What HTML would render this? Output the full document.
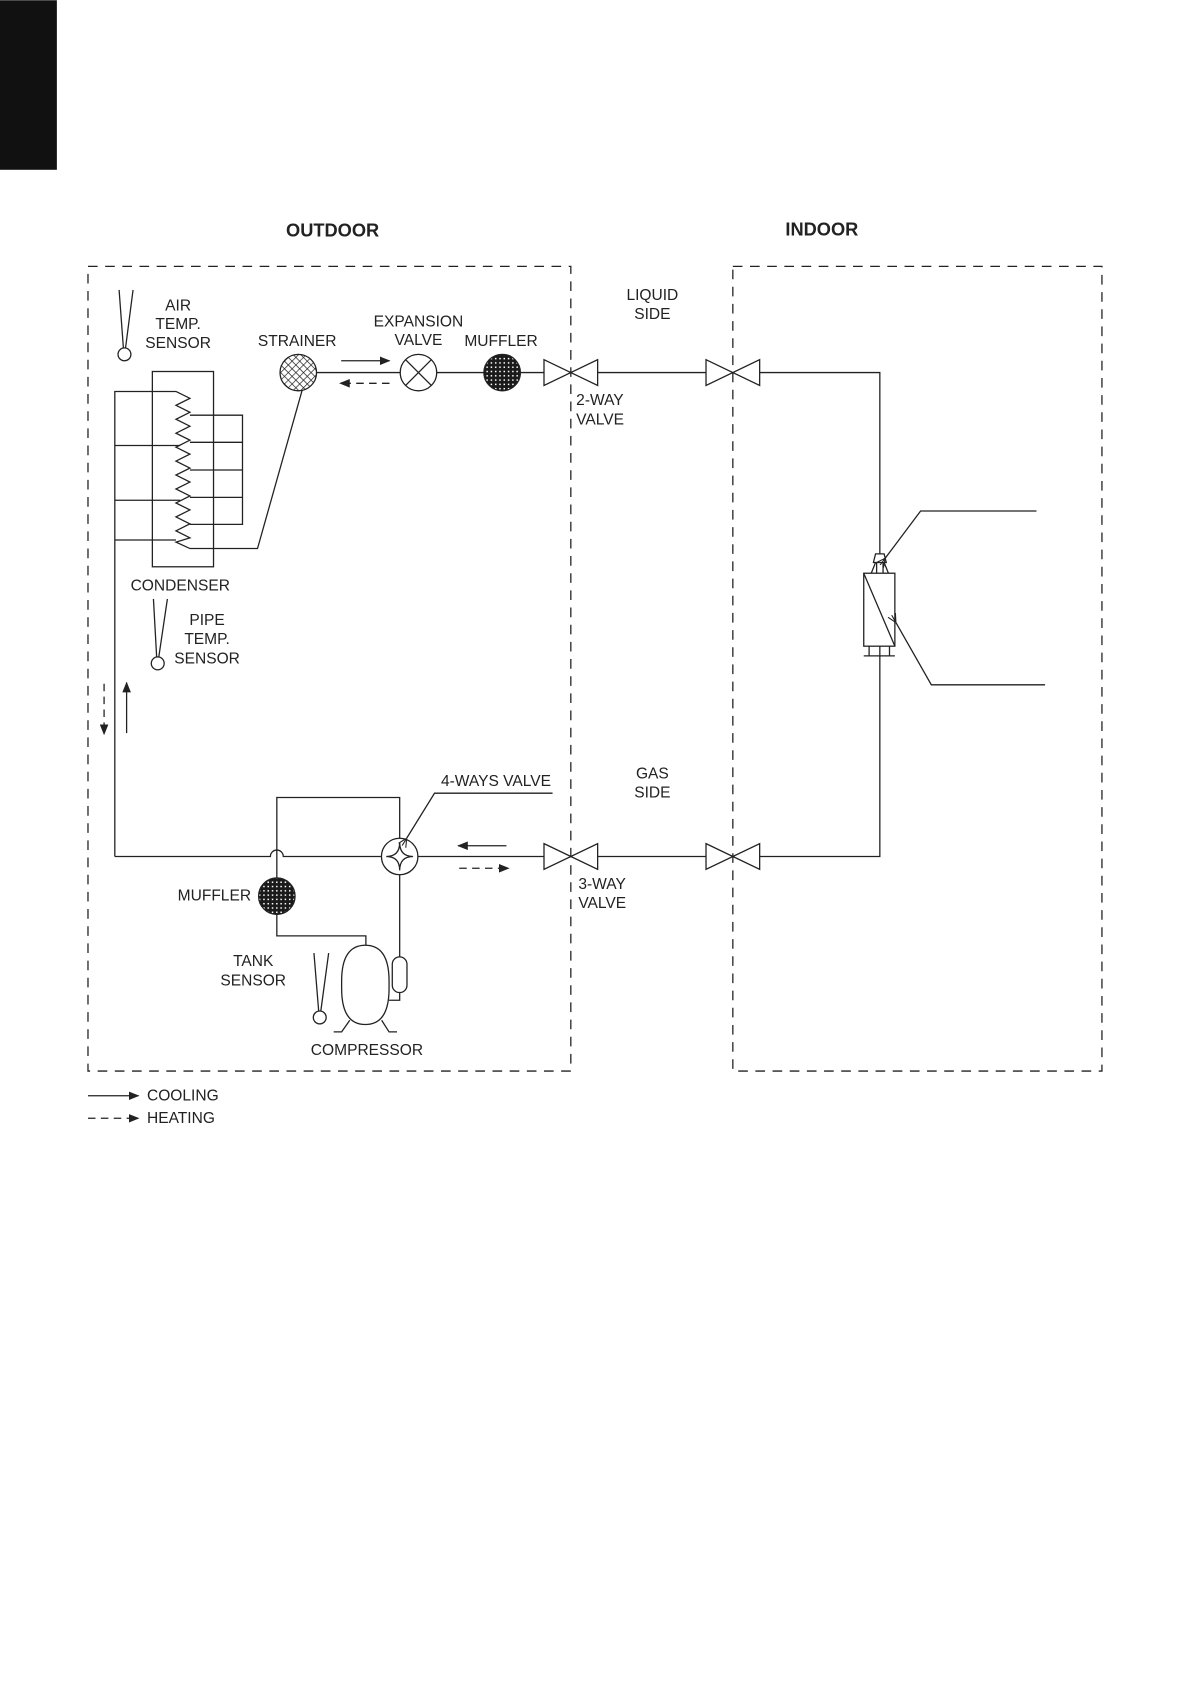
<!DOCTYPE html>
<html><head><meta charset="utf-8"><style>
html,body{margin:0;padding:0;background:#fff;}
svg{display:block;}
text{font-family:"Liberation Sans",Arial,sans-serif;font-size:14.5px;fill:#222;dominant-baseline:central;}
.b{font-weight:bold;font-size:17px;}
</style></head><body>
<svg width="1191" height="1684" viewBox="0 0 1110 1569" xmlns="http://www.w3.org/2000/svg">
<defs>
<pattern id="hatch" width="5" height="5" patternUnits="userSpaceOnUse" patternTransform="rotate(45)">
<rect width="5" height="5" fill="#fff"/><path d="M0 0V5M0 0H5" stroke="#222" stroke-width="1.3"/></pattern>
<pattern id="dots" width="4" height="4" patternUnits="userSpaceOnUse">
<rect width="4" height="4" fill="#1a1a1a"/><rect x="1.3" y="1.3" width="1.4" height="1.4" fill="#fff"/></pattern>
<marker id="ah" markerWidth="10" markerHeight="8" refX="9" refY="4" orient="auto" markerUnits="userSpaceOnUse"><path d="M0,0L10,4L0,8z" fill="#222"/></marker>
<marker id="ah2" markerWidth="8" markerHeight="10" refX="0" refY="5" orient="auto" markerUnits="userSpaceOnUse"><path d="M0,5L8,1M0,5L8,9M0,5L8,5" stroke="#222" fill="none"/></marker>
</defs>
<rect x="0" y="0" width="53" height="158" fill="#111"/>
<text class="b" x="310" y="214" text-anchor="middle">OUTDOOR</text>
<text class="b" x="766" y="213" text-anchor="middle">INDOOR</text>
<g fill="none" stroke="#222" stroke-width="1.2" stroke-dasharray="9,7">
<rect x="82" y="248" width="450" height="750"/>
<rect x="683" y="248" width="344" height="750"/>
</g>
<g fill="none" stroke="#222" stroke-width="1.2">
<path d="M111 270L115 324M124 270L117 324"/><circle cx="116" cy="330" r="6"/>
<path d="M143 558L146 612M156 558L148 612"/><circle cx="147" cy="618" r="6"/>
<path d="M292.6 888L297 942M306.3 888L299 942"/><circle cx="298" cy="948" r="6"/>
<rect x="142" y="346" width="57" height="182"/>
<path d="M107 798V364.6H164M107 415H168M107 466H168M107 503H164"/>
<path d="M164 364.6L177 371L164 377.5L177 384L164 390.5L177 397L164 403.5L177 410L164 416.5L177 423L164 429.5L177 436L164 442.5L177 449L164 455.5L177 462L164 468.5L177 475L164 481.5L177 488L164 494.5L177 501L164 505L177 511H240L282 362"/>
<path d="M177 386.7H226V488.5H177M177 412H226M177 437.8H226M177 463.3H226"/>
<path d="M295 347H373M407 347H451M485 347H507M557 347H658M708 347H820V516"/>
<path d="M507 335L557 359V335L507 359Z"/>
<path d="M658 335L708 359V335L658 359Z"/>
<path d="M507 786L557 810V786L507 810Z"/>
<path d="M658 786L708 810V786L658 810Z"/>
<circle cx="390" cy="347" r="17"/><path d="M378 335L402 359M402 335L378 359"/>
<path d="M107 798H252A6 6 0 0 1 264 798H355M389 798H507M557 798H658M708 798H820V611"/>
<circle cx="372.5" cy="798" r="17"/>
<path d="M372.5 785Q372.5 798 360 798Q372.5 798 372.5 811Q372.5 798 385 798Q372.5 798 372.5 785"/>
<path d="M372.5 781V743H258V818M258 852V872H341V881M372.5 815V891.6"/>
<path d="M318.4 914Q318.4 880.7 340.5 880.7Q362.6 880.7 362.6 914V921Q362.6 954.6 340.5 954.6Q318.4 954.6 318.4 921Z"/>
<rect x="365.6" y="891.6" width="13.7" height="33.2" rx="6.8"/>
<path d="M372.5 924.8V932H362.6"/>
<path d="M326 950.6L318.4 961.5H311M355.7 950.6L362.6 961.5H370"/>
<path d="M814 524L816 516H824L826 524ZM812 534L816 524M828 534L824 524M817 524V534M823 524V534"/>
<rect x="805" y="534" width="29" height="68"/>
<path d="M805 534L834 602M810 602V611M820 602V611M829 602V611M805 611H834"/>
<path d="M966 476H858L825 520" marker-end="url(#ah2)"/>
<path d="M974 638H868L835 580" marker-end="url(#ah2)"/>
<path d="M515 739H405L379 781" marker-end="url(#ah2)"/>
<circle cx="278" cy="347" r="17" fill="url(#hatch)"/>
<circle cx="468" cy="347" r="17" fill="url(#dots)"/>
<circle cx="258" cy="835" r="17" fill="url(#dots)"/>
<path d="M318 336H363" marker-end="url(#ah)"/>
<path d="M363 357H317" stroke-dasharray="7,5" marker-end="url(#ah)"/>
<path d="M472 788H427" marker-end="url(#ah)"/>
<path d="M428 809H474" stroke-dasharray="7,5" marker-end="url(#ah)"/>
<path d="M97 637V684" stroke-dasharray="7,5" marker-end="url(#ah)"/>
<path d="M118 683V636" marker-end="url(#ah)"/>
<path d="M82 1021H129" marker-end="url(#ah)"/>
<path d="M82 1042H129" stroke-dasharray="7,5" marker-end="url(#ah)"/>
</g>
<g text-anchor="middle">
<text x="166" y="285">AIR</text><text x="166" y="302">TEMP.</text><text x="166" y="320">SENSOR</text>
<text x="277" y="318">STRAINER</text>
<text x="390" y="300">EXPANSION</text><text x="390" y="317">VALVE</text>
<text x="467" y="318">MUFFLER</text>
<text x="168" y="546">CONDENSER</text>
<text x="193" y="578">PIPE</text><text x="193" y="596">TEMP.</text><text x="193" y="614">SENSOR</text>
<text x="608" y="275">LIQUID</text><text x="608" y="293">SIDE</text>
<text x="608" y="721">GAS</text><text x="608" y="739">SIDE</text>
<text x="236" y="896">TANK</text><text x="236" y="914">SENSOR</text>
<text x="342" y="979">COMPRESSOR</text>
</g>
<text x="537" y="373">2-WAY</text><text x="537" y="391">VALVE</text>
<text x="539" y="824">3-WAY</text><text x="539" y="842">VALVE</text>
<text x="411" y="728">4-WAYS VALVE</text>
<text x="234" y="835" text-anchor="end">MUFFLER</text>
<text x="137" y="1021">COOLING</text>
<text x="137" y="1042">HEATING</text>
</svg>
</body></html>
